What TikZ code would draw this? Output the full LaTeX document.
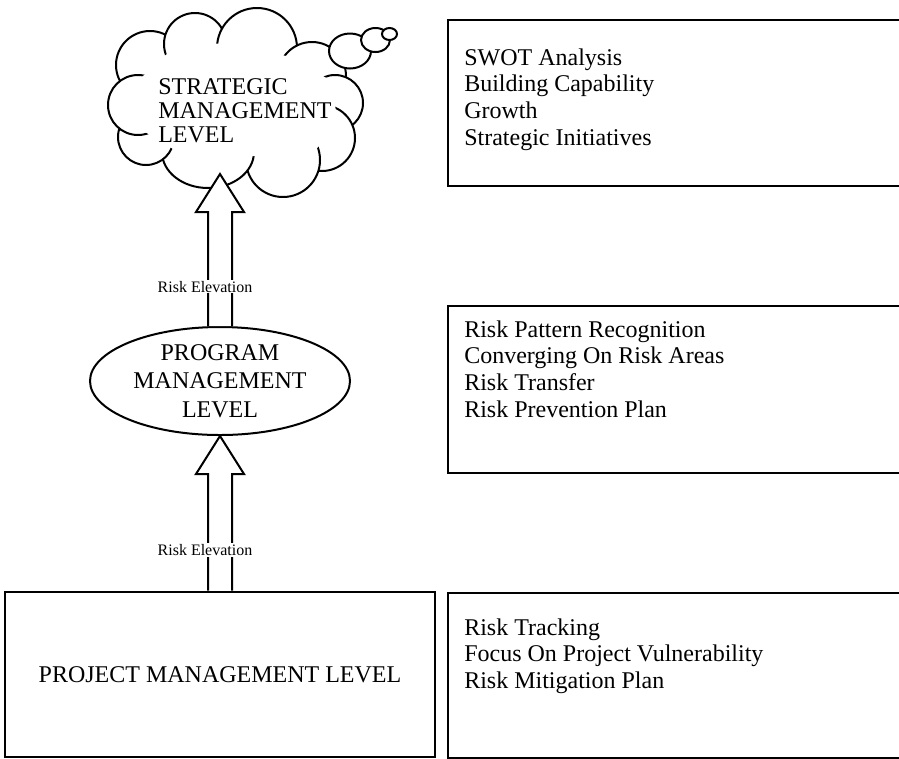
\documentclass[tikz,border=0pt]{standalone}
\usepackage{fontspec}
\setmainfont{Liberation Serif}
\usetikzlibrary{shapes.geometric,calc}
\begin{document}
\begin{tikzpicture}[x=0.75pt,y=-0.75pt,
  outline/.style={line width=1.5pt,draw=black},
  lobe/.style={outline,fill=white},
  levelbox/.style={draw,line width=2.2pt,rectangle,inner sep=0pt,
    font=\fontsize{18}{20}\selectfont},
  listbox/.style={draw,line width=1.5pt,rectangle,inner sep=0pt,anchor=north west,
    minimum width=351pt},
  listtext/.style={anchor=base west,inner sep=0pt,font=\fontsize{18}{20}\selectfont},
  blockarrow/.style={outline,fill=white,line join=miter},
  risklabel/.style={anchor=base,fill=white,inner sep=1pt,font=\fontsize{12}{14}\selectfont}]

\useasboundingbox (0,0) rectangle (899,758);

% ---- thought cloud for the strategic level ----
% overlapping lobes; each later lobe keeps a short stroke inside the previous one
\foreach \cx/\cy/\rx/\ry in {150/65/34/34, 195/44/31/31, 257/48/40/40, 312/76/34/34,
    335/103/28/28, 322/138/33/33, 283/160/37/37, 208/152/46/36, 146/137/28/28, 138/105/30/30}
  \filldraw[lobe] (\cx,\cy) ellipse [x radius=\rx, y radius=\ry];
% clear the inside, leaving only short strokes at the joins
\fill[white] (176.4,45.1) -- (224.8,43.4) -- (285.9,55.9) -- (331.3,80.6) -- (337.6,122.1)
  -- (306.9,161.2) -- (245,155.2) -- (174.8,150.1) -- (133.9,125.2) -- (134.8,83.8) -- cycle;
% trailing bubbles
\filldraw[lobe] (350,51) ellipse [x radius=21, y radius=17.5];
\filldraw[lobe] (375.5,40) ellipse [x radius=14.5, y radius=12];
\filldraw[lobe] (389.5,34) ellipse [x radius=7.5, y radius=6];

\node[anchor=base west,inner sep=0pt,font=\fontsize{18}{18}\selectfont] (stratxt) at (158,94)
  {\begin{tabular}[t]{@{}l@{}}STRATEGIC\\MANAGEMENT\\LEVEL\end{tabular}};
\coordinate (tipA) at (220,174);

% ---- program level ----
\node[ellipse,outline,fill=white,minimum width=195pt,minimum height=81pt,inner sep=0pt]
  (prog) at (220,381) {};
\node[anchor=base,inner sep=0pt,font=\fontsize{18}{21.5}\selectfont] (progtxt) at (220,360)
  {\begin{tabular}[t]{@{}c@{}}PROGRAM\\MANAGEMENT\\LEVEL\end{tabular}};
\coordinate (tipB) at (220,436);

% ---- project level ----
\node[levelbox,minimum width=322.5pt,minimum height=123.75pt] (proj) at (220,674.5)
  {PROJECT MANAGEMENT LEVEL};

% ---- activity lists ----
\node[listbox,minimum height=124.5pt] (swotbox) at (447,19) {};
\node[listtext] (swottxt) at (464,65)
  {\begin{tabular}[t]{@{}l@{}}SWOT Analysis\\Building Capability\\Growth\\Strategic Initiatives\end{tabular}};

\node[listbox,minimum height=124.9pt] (patternbox) at (447,305) {};
\node[listtext] (patterntxt) at (464,337)
  {\begin{tabular}[t]{@{}l@{}}Risk Pattern Recognition\\Converging On Risk Areas\\Risk Transfer\\Risk Prevention Plan\end{tabular}};

\node[listbox,minimum height=123.75pt] (trackbox) at (447,592) {};
\node[listtext] (tracktxt) at (464,635)
  {\begin{tabular}[t]{@{}l@{}}Risk Tracking\\Focus On Project Vulnerability\\Risk Mitigation Plan\end{tabular}};

% ---- risk elevation arrows ----
\draw[blockarrow] ($(prog.north)+(-12,0)$) -- ($(tipA)+(-12,38)$) -- ($(tipA)+(-24,38)$)
  -- (tipA) -- ($(tipA)+(24,38)$) -- ($(tipA)+(12,38)$) -- ($(prog.north)+(12,0)$);
\draw[blockarrow] ($(proj.north)+(-12,0)$) -- ($(tipB)+(-12,38)$) -- ($(tipB)+(-24,38)$)
  -- (tipB) -- ($(tipB)+(24,38)$) -- ($(tipB)+(12,38)$) -- ($(proj.north)+(12,0)$);

\node[risklabel] (elevA) at (205,292) {Risk Elevation};
\node[risklabel] (elevB) at (205,555) {Risk Elevation};
\end{tikzpicture}
\end{document}
